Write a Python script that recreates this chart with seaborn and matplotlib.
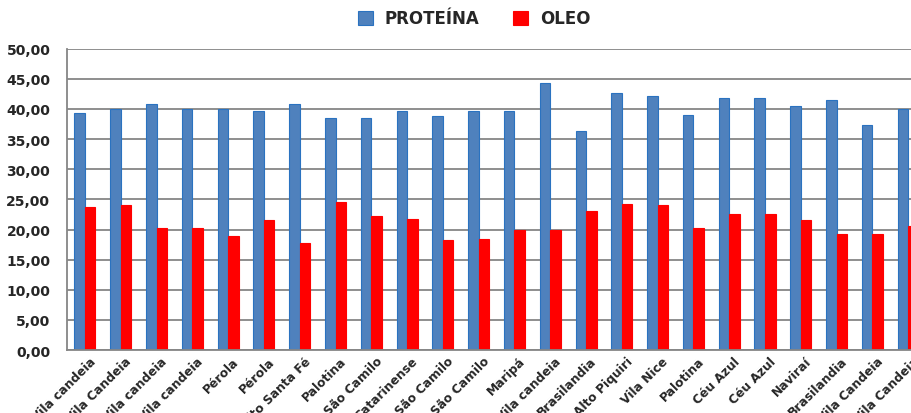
import matplotlib
matplotlib.use("Agg")
import matplotlib.pyplot as plt
import matplotlib.ticker as mticker
import matplotlib.transforms as mtransforms
from matplotlib.patches import Patch
import seaborn as sns
import pandas as pd

# Locais de coleta das amostras
locais = [
    "Vila candeia", "Vila Candeia", "Vila candeia", "Vila candeia",
    "Pérola", "Pérola", "Alto Santa Fé", "Palotina", "São Camilo",
    "Catarinense", "São Camilo", "São Camilo", "Maripá", "Vila candeia",
    "Brasilandia", "Alto Piquiri", "Vila Nice", "Palotina", "Céu Azul",
    "Céu Azul", "Naviraí", "Brasilandia", "Vila Candeia", "Vila Candeia",
]

# Teores (%) por amostra
proteina = [39.3, 40.0, 40.8, 40.0, 40.0, 39.7, 40.9, 38.5, 38.5, 39.7,
            38.8, 39.7, 39.7, 44.3, 36.4, 42.6, 42.1, 39.0, 41.9, 41.8,
            40.5, 41.5, 37.4, 40.0]
oleo = [23.8, 24.1, 20.3, 20.3, 19.0, 21.65, 17.7, 24.6, 22.3, 21.8,
        18.2, 18.35, 20.0, 20.0, 23.1, 24.3, 24.0, 20.3, 22.6, 22.6,
        21.65, 19.3, 19.2, 20.65]

series = ["PROTEÍNA", "OLEO"]
cores = {"PROTEÍNA": "#4F81BD", "OLEO": "#FF0000"}
bordas = {"PROTEÍNA": "#2A72C0", "OLEO": "#FF0000"}

n = len(locais)
df = pd.DataFrame({
    "amostra": list(range(n)) * 2,
    "serie": [series[0]] * n + [series[1]] * n,
    "valor": proteina + oleo,
})

sns.set_theme(style="white")
plt.rcParams["font.family"] = ["DejaVu Sans"]

fig = plt.figure(figsize=(9.12, 4.14), dpi=100)
ax = fig.add_axes([0.0735, 0.152, 0.942, 0.728])

sns.barplot(data=df, x="amostra", y="valor", hue="serie", hue_order=series,
            palette=cores, width=0.59, gap=0, saturation=1, ax=ax,
            legend=False, errorbar=None)

for cont, s in zip(ax.containers, series):
    for bar in cont:
        bar.set_edgecolor(bordas[s])
        bar.set_linewidth(0.8)

ax.set_xlim(-0.5, n - 0.5)
ax.set_ylim(0, 50)
ax.yaxis.set_major_locator(mticker.MultipleLocator(5))
ax.yaxis.set_major_formatter(
    mticker.FuncFormatter(lambda v, p: f"{v:.2f}".replace(".", ",")))
ax.grid(axis="y", color="#868686", linewidth=1.3)
ax.set_axisbelow(True)

ax.set_xticks(range(n))
ax.set_xticklabels(locais, rotation=45, ha="right", rotation_mode="anchor",
                   fontsize=8.8, fontweight="bold")
ax.set_xticks([i + 0.5 for i in range(-1, n)], minor=True)
ax.tick_params(axis="x", which="major", length=0, pad=3)
ax.tick_params(axis="x", which="minor", length=5, width=1.2, color="#868686")
ax.tick_params(axis="y", length=6, width=1.2, color="#868686", pad=6,
               labelsize=10)
for lab in ax.get_yticklabels():
    lab.set_fontweight("bold")

# desloca os rótulos inclinados um pouco para a direita
shift = mtransforms.ScaledTranslation(3 / 72, 0, fig.dpi_scale_trans)
for lab in ax.get_xticklabels():
    lab.set_transform(lab.get_transform() + shift)

for side in ("top", "right"):
    ax.spines[side].set_visible(False)
for side in ("left", "bottom"):
    ax.spines[side].set_color("#868686")
    ax.spines[side].set_linewidth(1.3)

ax.set_xlabel("")
ax.set_ylabel("")

handles = [Patch(facecolor=cores[s], edgecolor=bordas[s], linewidth=0.8)
           for s in series]
fig.legend(handles, series, loc="center", bbox_to_anchor=(0.52, 0.953),
           ncol=2, frameon=False, handlelength=0.9, handleheight=0.9,
           columnspacing=2.0, handletextpad=0.7,
           prop={"size": 12, "weight": "bold"})

fig.savefig("out.png", dpi=100)
